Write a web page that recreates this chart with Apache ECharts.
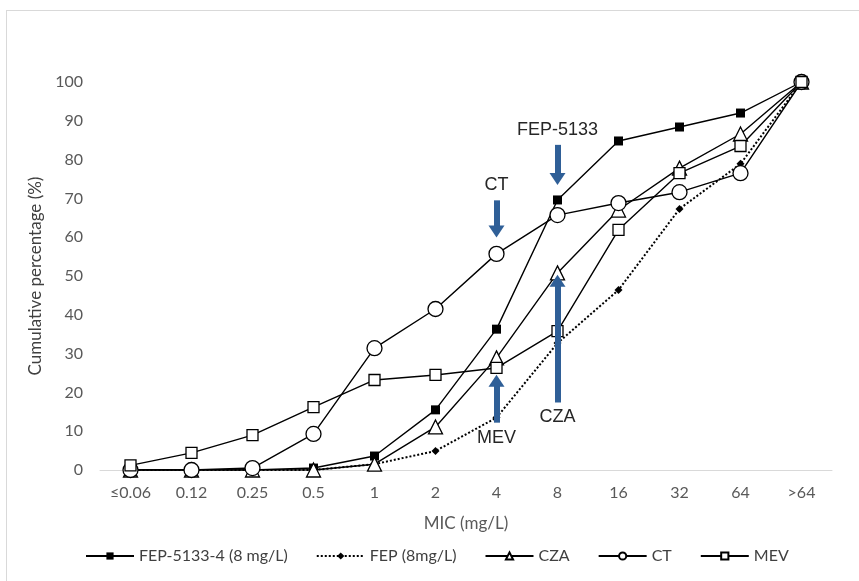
<!DOCTYPE html>
<html>
<head>
<meta charset="utf-8">
<script src="https://cdn.jsdelivr.net/npm/echarts@6/dist/echarts.min.js"></script>
<style>
  html, body { margin: 0; padding: 0; background: #fff; }
  #main { width: 859px; height: 581px; }
  #frame { position: absolute; left: 6px; top: 10px; width: 900px; height: 600px;
           border: 1px solid #d9d9d9; pointer-events: none; }
</style>
</head>
<body>
<div id="main"></div>
<div id="frame"></div>
<script>
// MIC categories (mg/L)
const micLabels = ['≤0.06', '0.12', '0.25', '0.5', '1', '2', '4', '8', '16', '32', '64', '>64'];

// cumulative percentage per drug
const fep5133 = [0, 0, 0, 0.5, 3.6, 15.5, 36.3, 69.6, 84.8, 88.4, 92, 100];
const fep     = [0, 0, 0, 0, 1.5, 4.9, 13.5, 32.7, 46.4, 67.3, 78.9, 100];
const cza     = [0, 0, 0, 0, 1.5, 11.1, 28.9, 50.8, 67, 77.8, 86.6, 100];
const ct      = [0, 0, 0.5, 9.3, 31.4, 41.5, 55.7, 65.7, 68.8, 71.6, 76.5, 100];
const mev     = [1.2, 4.4, 9.0, 16.2, 23.2, 24.5, 26.3, 35.8, 61.9, 76.5, 83.5, 100];

// arrows: [label, category, from, to]
const arrows = [
  ['CT', '4', 69.5, 61.5],
  ['FEP-5133', '8', 83.8, 75],
  ['MEV', '4', 12.2, 23],
  ['CZA', '8', 17.4, 48.8]
];

const chart = echarts.init(document.getElementById('main'));
const axisFont = 'Lato, "Open Sans", sans-serif';

const makeSeries = (name, data, symbol, size, fill, dotted) => ({
  name: name,
  type: 'line',
  data: data,
  symbol: symbol,
  symbolSize: size,
  showAllSymbol: true,
  lineStyle: { color: '#000', width: dotted ? 2 : 1.4, type: dotted ? 'dotted' : 'solid' },
  itemStyle: { color: fill, borderColor: '#000', borderWidth: fill === '#000' ? 0 : 1.3 },
  emphasis: { disabled: true }
});

const arrowSeries = {
  name: 'arrows',
  type: 'line',
  data: [],
  silent: true,
  markLine: {
    silent: true,
    symbol: ['none', 'triangle'],
    symbolSize: [16, 12],
    lineStyle: { color: '#2f5f97', width: 6, type: 'solid' },
    label: {
      show: true,
      position: 'start',
      distance: 6,
      color: '#262626',
      fontFamily: '"Liberation Sans", Arial, sans-serif',
      fontSize: 18,
      formatter: p => p.name
    },
    emphasis: { disabled: true },
    data: arrows.map(a => [
      { name: a[0], coord: [a[1], a[2]] },
      { coord: [a[1], a[3]] }
    ])
  }
};

chart.setOption({
  animation: false,
  grid: { left: 100, right: 27, top: 82, bottom: 111 },
  legend: {
    bottom: 12,
    left: 80,
    itemWidth: 48,
    itemHeight: 9,
    itemGap: 28,
    textStyle: { color: '#404040', fontFamily: axisFont, fontSize: 16 },
    data: ['FEP-5133-4 (8 mg/L)', 'FEP (8mg/L)', 'CZA', 'CT', 'MEV']
  },
  xAxis: {
    type: 'category',
    data: micLabels,
    name: 'MIC (mg/L)',
    nameLocation: 'middle',
    nameGap: 45,
    nameTextStyle: { color: '#595959', fontFamily: axisFont, fontSize: 17 },
    axisLine: { lineStyle: { color: '#d9d9d9', width: 1 } },
    axisTick: { show: false },
    axisLabel: { color: '#595959', fontFamily: axisFont, fontSize: 16, margin: 15 }
  },
  yAxis: {
    type: 'value',
    min: 0,
    max: 100,
    interval: 10,
    name: 'Cumulative percentage (%)',
    nameLocation: 'middle',
    nameGap: 56,
    nameTextStyle: { color: '#404040', fontFamily: axisFont, fontSize: 17 },
    axisLine: { show: false },
    axisTick: { show: false },
    splitLine: { show: false },
    axisLabel: { color: '#595959', fontFamily: axisFont, fontSize: 16, margin: 17 }
  },
  series: [
    makeSeries('FEP-5133-4 (8 mg/L)', fep5133, 'rect', 9, '#000', false),
    makeSeries('FEP (8mg/L)', fep, 'diamond', 8, '#000', true),
    makeSeries('CZA', cza, 'triangle', 14, '#fff', false),
    makeSeries('CT', ct, 'circle', 15, '#fff', false),
    makeSeries('MEV', mev, 'rect', 11, '#fff', false),
    arrowSeries
  ]
});
</script>
</body>
</html>
